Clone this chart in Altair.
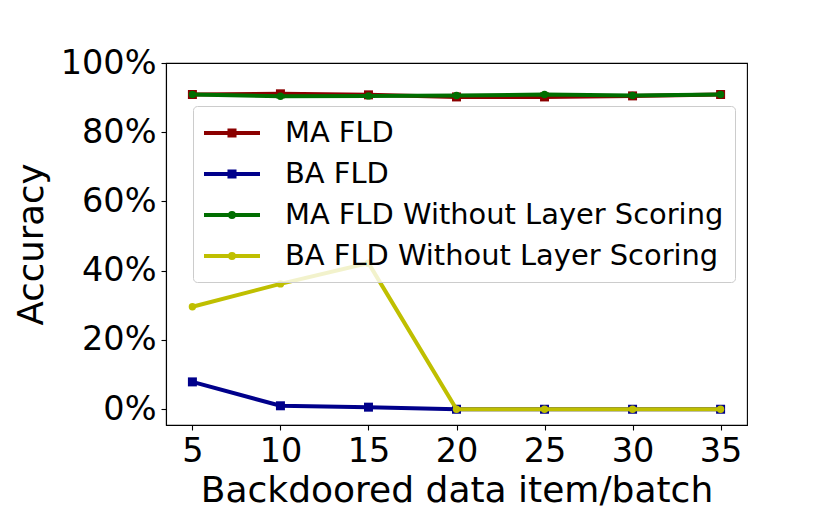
import altair as alt
import pandas as pd

x_vals = [5, 10, 15, 20, 25, 30, 35]
series = ["MA FLD", "BA FLD", "MA FLD Without Layer Scoring", "BA FLD Without Layer Scoring"]
ma_fld = [0.909, 0.911, 0.908, 0.902, 0.902, 0.905, 0.909]
ba_fld = [0.079, 0.010, 0.006, 0.000, 0.000, 0.000, 0.000]
ma_fld_nols = [0.909, 0.904, 0.905, 0.906, 0.909, 0.906, 0.909]
ba_fld_nols = [0.296, 0.362, 0.422, 0.000, 0.000, 0.000, 0.000]
colors = ["#8b0000", "#00008b", "#006e00", "#bfbf00"]
markers = ["square", "square", "circle", "circle"]
y_ticks = [0, 0.2, 0.4, 0.6, 0.8, 1.0]

values = [ma_fld, ba_fld, ma_fld_nols, ba_fld_nols]
rows = []
for name, vals in zip(series, values):
    for xv, yv in zip(x_vals, vals):
        rows.append({"x": xv, "y": yv, "series": name})
df = pd.DataFrame(rows)

sq = "M-2,0H2M-0.18,-0.18H0.18V0.18H-0.18Z"
ci = "M-2,0H2M0.14,0A0.14,0.14,0,1,1,-0.14,0A0.14,0.14,0,1,1,0.14,0Z"
legend_paths = [sq, sq, ci, ci]

xscale = alt.Scale(domain=[3.5, 36.5], nice=False, zero=False)
yscale = alt.Scale(domain=[-0.0455, 1.0], nice=False, zero=False)
cscale = alt.Scale(domain=series, range=colors)

X = alt.X("x:Q", scale=xscale, title="Backdoored data item/batch",
          axis=alt.Axis(values=x_vals, format="d"))
Y = alt.Y("y:Q", scale=yscale, title="Accuracy",
          axis=alt.Axis(values=y_ticks, format=".0%"))

layers = []
for name, col, mk in zip(series, colors, markers):
    sub = df[df["series"] == name]
    base = alt.Chart(sub)
    line = base.mark_line(strokeWidth=4, color=col).encode(x=X, y=Y)
    if mk == "square":
        pts = base.mark_square(size=81, color=col, opacity=1).encode(x=X, y=Y)
    else:
        pts = base.mark_circle(size=55, color=col, opacity=1).encode(x=X, y=Y)
    layers += [line, pts]

legend_layer = alt.Chart(df).mark_point(opacity=0, filled=False, strokeWidth=4).encode(
    x=X, y=Y,
    color=alt.Color("series:N", scale=cscale, title=None,
                    legend=alt.Legend(
                        orient="none", legendX=27, legendY=43,
                        symbolSize=784, symbolStrokeWidth=4, symbolOpacity=1,
                        symbolOffset=12, labelOffset=37,
                        labelFontSize=28.9, labelFont="DejaVu Sans", labelColor="black",
                        labelLimit=600, rowPadding=10, padding=11,
                        fillColor="rgba(255,255,255,0.8)", strokeColor="#cccccc",
                        cornerRadius=4)),
    shape=alt.Shape("series:N", scale=alt.Scale(domain=series, range=legend_paths), title=None),
)

chart = alt.layer(*layers, legend_layer).properties(
    width=581, height=362,
    autosize=alt.AutoSizeParams(type="none"),
    padding={"left": 158, "top": 55, "right": 60, "bottom": 92},
).configure_view(stroke="black", strokeWidth=1.1).configure_axis(
    grid=False, domainColor="black", domainWidth=1.1, tickColor="black", tickSize=5,
    tickWidth=1.1, labelColor="black", titleColor="black", labelFont="DejaVu Sans",
    titleFont="DejaVu Sans", labelFontSize=33.5, titleFontWeight="normal",
    labelPadding=5,
).configure_axisX(titlePadding=6, titleFontSize=36).configure_axisY(titlePadding=11, titleFontSize=35.5)

chart.save("out.html", embed_options={"renderer": "svg", "actions": False})
